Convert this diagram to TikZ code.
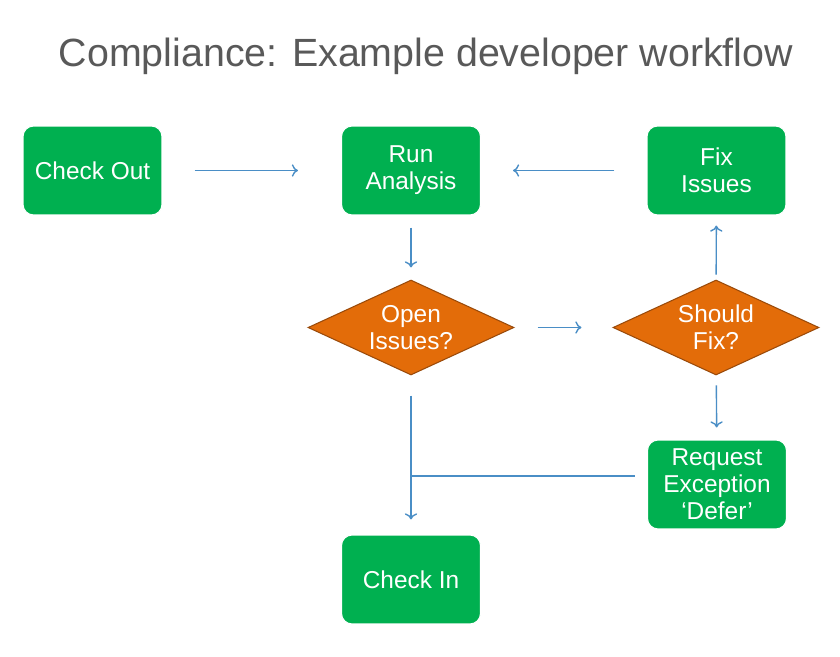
\documentclass[tikz,border=0pt]{standalone}
\usepackage{fontspec}
\setsansfont{Liberation Sans}
\usepackage{xcolor}
\usetikzlibrary{shapes.geometric,arrows.meta,positioning}
\definecolor{stepgreen}{HTML}{00B050}
\definecolor{askorange}{HTML}{E36C09}
\definecolor{askborder}{HTML}{9A4A0A}
\definecolor{flowblue}{HTML}{4A8EC6}
\definecolor{titlegray}{HTML}{595959}
\tikzset{flow/.style={draw=flowblue,line width=0.8pt,-{To[length=3.5pt,width=7pt]}}}

\begin{document}
\begin{tikzpicture}[x=0.02cm,y=-0.02cm,
    step node/.style={rectangle,rounded corners=6pt,fill=stepgreen,draw=white,line width=0.6pt,
      text=white,align=center,minimum width=2.78cm,minimum height=1.78cm,inner sep=0pt,
      font=\sffamily\fontsize{13.9}{15.3}\selectfont},
    ask node/.style={diamond,fill=askorange,draw=askborder,line width=0.6pt,aspect=2.17,
      text=white,align=center,minimum width=4.12cm,minimum height=1.9cm,inner sep=0pt,
      font=\sffamily\fontsize{13.9}{15.3}\selectfont}]

  \useasboundingbox[fill=white] (0,0) rectangle (840,657);

%TITLE
  \node[text=titlegray,font=\sffamily\fontsize{22.4}{26}\selectfont] (title) at (426,56)
    {Compliance: Example developer workflow};

%DRAWING STEPS
  \node[step node] (checkout) at (92.5,170.5) {Check Out};
  \node[step node] (run) at (411,170.5) {Run\\Analysis};
  \node[step node] (fix) at (716.5,170.5) {Fix\\Issues};
  \node[ask node] (open) at (411,327.5) {Open\\Issues?};
  \node[ask node] (should) at (716,327.5) {Should\\Fix?};
  \node[step node] (request) at (717,484.5) {Request\\Exception\\`Defer'};
  \node[step node] (checkin) at (411,579.5) {Check In};

%DRAWING ARROWS
  \draw[flow,shorten <=0.64cm,shorten >=0.86cm] (checkout) -- (run);
  \draw[flow,shorten <=0.64cm,shorten >=0.64cm] (fix) -- (run);
  \draw[flow,shorten <=0.24cm,shorten >=0.24cm] (run) -- (open);
  \draw[flow,shorten <=0.46cm,shorten >=0.62cm] (open) -- (should);
  \draw[flow,shorten <=0.1cm,shorten >=0.2cm] (should) -- (fix);
  \draw[flow,shorten <=0.2cm,shorten >=0.24cm] (should) -- (request);
  \draw[flow,shorten <=0.4cm,shorten >=0.3cm] (open) -- (checkin);
  \coordinate (join) at (open |- 0,476);
  \draw[flowblue,line width=0.8pt,shorten <=0.24cm] (request.west |- join) -- (join);

\end{tikzpicture}
\end{document}
